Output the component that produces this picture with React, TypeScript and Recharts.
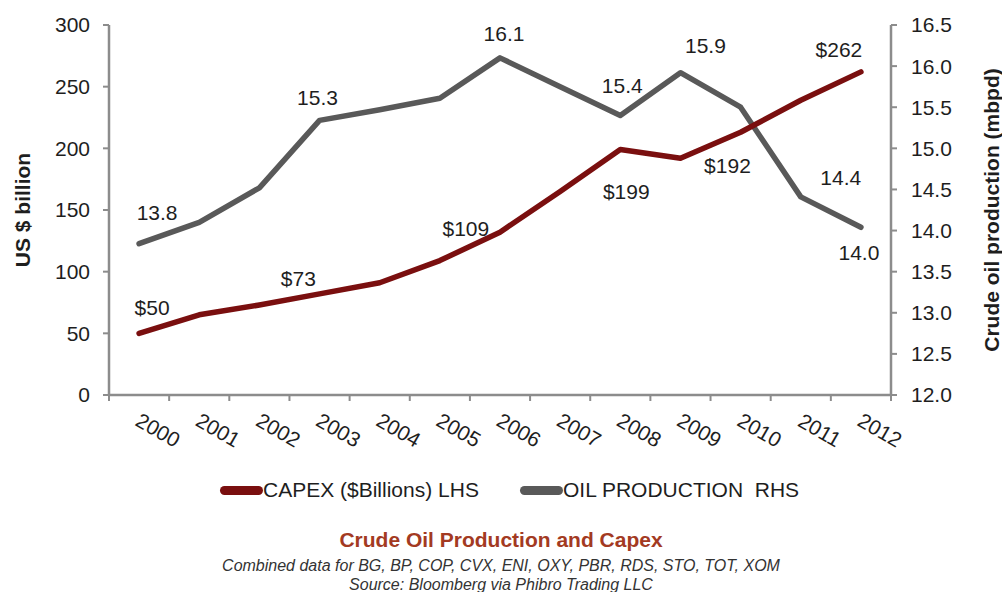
import React from "react";
import { LineChart, Line, XAxis, YAxis, LabelList } from "recharts";

const years = ["2000", "2001", "2002", "2003", "2004", "2005", "2006", "2007", "2008", "2009", "2010", "2011", "2012"];
const capex = [50, 65, 73, 82, 91, 109, 132, 165, 199, 192, 213, 239, 262];
const oilProduction = [13.84, 14.1, 14.52, 15.34, 15.47, 15.61, 16.1, 15.75, 15.4, 15.92, 15.5, 14.41, 14.04];
const leftTicks = [0, 50, 100, 150, 200, 250, 300];
const rightTicks = [12, 12.5, 13, 13.5, 14, 14.5, 15, 15.5, 16, 16.5];

const data = years.map((year, i) => ({
  idx: i,
  year,
  capex: capex[i],
  oil: oilProduction[i],
}));

// category boundaries, where the x-axis tick marks sit
const boundaries = years.map((_, i) => i - 0.5).concat([years.length - 0.5]);

const FONT = "'Liberation Sans', Arial, sans-serif";
const RED = "#7a0f0f";
const GREY = "#595959";
const AXIS = "#8c8c8c";
const TEXT = "#1e1e1e";

const W = 1002;
const LEFT_W = 109;
const RIGHT_W = 111;
const STEP = (W - LEFT_W - RIGHT_W) / years.length;

// label placement tweaks (dx, dy from the point), like the hand-moved labels in the original
const capexLabelPos: Record<number, [number, number]> = {
  0: [13, -26],
  2: [39, -26],
  5: [26, -32],
  8: [6, 42],
  9: [47, 7],
  12: [-22, -22],
};
const oilLabelPos: Record<number, [number, number]> = {
  0: [18, -31],
  3: [-2, -23],
  6: [4, -24],
  8: [2, -30],
  9: [25, -27],
  11: [40, -19],
  12: [-2, 25],
};

const makeLabel =
  (pos: Record<number, [number, number]>, fmt: (v: number) => string) =>
  (props: any) => {
    const { x, y, index, value } = props;
    const p = pos[index];
    if (!p) return null;
    return (
      <text
        x={x + p[0]}
        y={y + p[1]}
        textAnchor="middle"
        dominantBaseline="central"
        fontSize={21}
        fontFamily={FONT}
        fill={TEXT}
      >
        {fmt(value)}
      </text>
    );
  };

const YearTick = (props: any) => {
  const { x, y, payload } = props;
  const i = payload.value + 0.5;
  if (i > years.length - 1) return null;
  const cx = x + STEP / 2 + 19;
  const cy = y + 27;
  return (
    <text
      x={0}
      y={0}
      transform={`translate(${cx},${cy}) rotate(30)`}
      textAnchor="middle"
      dominantBaseline="central"
      fontSize={21}
      fontFamily={FONT}
      fill={TEXT}
    >
      {years[i]}
    </text>
  );
};

const LegendItem = ({ color, text, left }: { color: string; text: string; left: number }) => (
  <div style={{ position: "absolute", left, top: 478, height: 24, display: "flex", alignItems: "center" }}>
    <div style={{ width: 43, height: 9, borderRadius: 5, background: color }} />
    <span style={{ fontSize: 21, color: TEXT, whiteSpace: "pre" }}>{text}</span>
  </div>
);

export default function App() {
  return (
    <div
      style={{
        position: "absolute",
        left: 0,
        top: 0,
        width: W,
        height: 592,
        background: "#fff",
        fontFamily: FONT,
      }}
    >
      <LineChart width={W} height={470} data={data} margin={{ top: 25, right: 0, left: 0, bottom: 0 }}>
        <XAxis
          dataKey="idx"
          type="number"
          domain={[-0.5, years.length - 0.5]}
          ticks={boundaries}
          interval={0}
          height={75}
          axisLine={{ stroke: AXIS, strokeWidth: 2.5 }}
          tickLine={{ stroke: AXIS, strokeWidth: 2 }}
          tickSize={6}
          tick={<YearTick />}
        />
        <YAxis
          yAxisId="left"
          domain={[0, 300]}
          ticks={leftTicks}
          width={LEFT_W}
          axisLine={{ stroke: AXIS, strokeWidth: 2.5 }}
          tickLine={{ stroke: AXIS, strokeWidth: 2 }}
          tickSize={6}
          tickMargin={13}
          tick={{ fontSize: 21, fill: TEXT, fontFamily: FONT }}
          label={(props: any) => {
            const vb = props.viewBox;
            const cy = vb.y + vb.height / 2;
            return (
              <text
                x={22}
                y={cy}
                transform={`rotate(-90, 22, ${cy})`}
                textAnchor="middle"
                dominantBaseline="central"
                fontSize={21}
                fontWeight="bold"
                fontFamily={FONT}
                fill={TEXT}
              >
                US $ billion
              </text>
            );
          }}
        />
        <YAxis
          yAxisId="right"
          orientation="right"
          domain={[12, 16.5]}
          ticks={rightTicks}
          width={RIGHT_W}
          axisLine={{ stroke: AXIS, strokeWidth: 2.5 }}
          tickLine={{ stroke: AXIS, strokeWidth: 2 }}
          tickSize={6}
          tickMargin={14}
          tickFormatter={(v: number) => v.toFixed(1)}
          tick={{ fontSize: 21, fill: TEXT, fontFamily: FONT }}
          label={(props: any) => {
            const vb = props.viewBox;
            const cy = vb.y + vb.height / 2;
            return (
              <text
                x={991}
                y={cy}
                transform={`rotate(-90, 991, ${cy})`}
                textAnchor="middle"
                dominantBaseline="central"
                fontSize={21}
                fontWeight="bold"
                fontFamily={FONT}
                fill={TEXT}
              >
                Crude oil production (mbpd)
              </text>
            );
          }}
        />
        <Line
          yAxisId="right"
          dataKey="oil"
          type="linear"
          stroke={GREY}
          strokeWidth={5.5}
          strokeLinecap="round"
          strokeLinejoin="round"
          dot={false}
          isAnimationActive={false}
        >
          <LabelList dataKey="oil" content={makeLabel(oilLabelPos, (v) => v.toFixed(1))} />
        </Line>
        <Line
          yAxisId="left"
          dataKey="capex"
          type="linear"
          stroke={RED}
          strokeWidth={5.5}
          strokeLinecap="round"
          strokeLinejoin="round"
          dot={false}
          isAnimationActive={false}
        >
          <LabelList dataKey="capex" content={makeLabel(capexLabelPos, (v) => `$${v}`)} />
        </Line>
      </LineChart>

      <LegendItem color={RED} text="CAPEX ($Billions) LHS" left={220} />
      <LegendItem color={GREY} text="OIL PRODUCTION  RHS" left={520} />

      <div
        style={{
          position: "absolute",
          left: 0,
          width: W,
          top: 527,
          textAlign: "center",
          fontSize: 21,
          fontWeight: "bold",
          color: "#a33a22",
          lineHeight: "26px",
        }}
      >
        Crude Oil Production and Capex
      </div>
      <div
        style={{
          position: "absolute",
          left: 0,
          width: W,
          top: 556,
          textAlign: "center",
          fontSize: 16,
          fontStyle: "italic",
          color: "#333",
          lineHeight: "19px",
        }}
      >
        Combined data for BG, BP, COP, CVX, ENI, OXY, PBR, RDS, STO, TOT, XOM
        <br />
        Source: Bloomberg via Phibro Trading LLC
      </div>
    </div>
  );
}
